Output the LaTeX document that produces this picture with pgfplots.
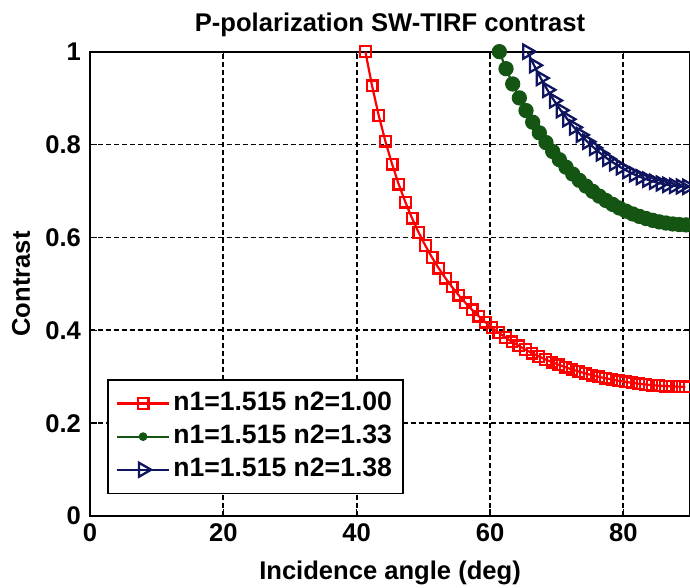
\documentclass[border=0pt]{standalone}
\usepackage{fontspec}
\setmainfont{Liberation Sans}
\usepackage{pgfplots}
\pgfplotsset{compat=1.18}

\definecolor{mgreen}{RGB}{20,85,20}
\definecolor{mblue}{RGB}{15,20,95}
\newcommand{\lblfont}{\fontsize{25.5}{30}\selectfont\bfseries}

\begin{document}
\begin{tikzpicture}[trim axis right]
\begin{axis}[
    scale only axis,
    width=598pt, height=463pt,
    xmin=0, xmax=90, ymin=0, ymax=1,
    xtick={0,20,40,60,80},
    xticklabels={0,20,40,60,80},
    ytick={0,0.2,0.4,0.6,0.8,1},
    yticklabels={0,0.2,0.4,0.6,0.8,1},
    axis line style={black, line width=1.8pt},
    tick style={black, line width=1.5pt},
    major tick length=7pt,
    tick align=inside,
    grid=major,
    major grid style={black, line width=1.8pt, dash pattern=on 5pt off 3pt},
    ticklabel style={font=\lblfont},
    xticklabel style={anchor=north, inner sep=0pt, yshift=-7pt},
    yticklabel style={anchor=east, inner sep=0pt, xshift=-9pt},
    every axis title shift=0pt,
    title={P-polarization SW-TIRF contrast},
    title style={font=\lblfont, at={(axis description cs:0.5,1.0432)}, anchor=base, inner xsep=0pt, inner ysep=13pt},
    xlabel={Incidence angle (deg)},
    xlabel style={font=\lblfont, at={(axis description cs:0.5,-0.1361)}, anchor=base, inner xsep=0pt, inner ysep=3pt},
    ylabel={Contrast},
    ylabel style={font=\lblfont, at={(axis description cs:-0.1003,0.5)}, anchor=base, rotate=0, inner xsep=0pt, inner ysep=12pt},
    clip mode=individual,
    legend cell align=left,
    legend style={at={(0.0284,0.0475)}, anchor=south west, draw=black, line width=1.5pt,
        fill=white, font=\fontsize{26.5}{30}\selectfont\bfseries,
        inner xsep=8pt, inner ysep=7pt,
        nodes={text height=18pt, text depth=5pt, inner ysep=5pt, inner xsep=3pt}},
    legend image code/.code={\draw[mark repeat=2,mark phase=2,#1] plot coordinates {(0pt,0pt) (26pt,0pt) (52pt,0pt)};},
]
% n1=1.515, n2=1.00
\addplot[red, line width=2.2pt, mark=square, mark size=5.3pt, mark options={line width=2.3pt}] table {
41.3 1.0000
42.3 0.9266
43.3 0.8627
44.3 0.8070
45.3 0.7580
46.3 0.7146
47.3 0.6760
48.3 0.6414
49.3 0.6103
50.3 0.5823
51.3 0.5568
52.3 0.5337
53.3 0.5126
54.3 0.4933
55.3 0.4756
56.3 0.4593
57.3 0.4443
58.3 0.4305
59.3 0.4177
60.3 0.4059
61.3 0.3950
62.3 0.3848
63.3 0.3754
64.3 0.3667
65.3 0.3586
66.3 0.3510
67.3 0.3440
68.3 0.3375
69.3 0.3315
70.3 0.3259
71.3 0.3207
72.3 0.3158
73.3 0.3114
74.3 0.3073
75.3 0.3035
76.3 0.3000
77.3 0.2969
78.3 0.2940
79.3 0.2914
80.3 0.2890
81.3 0.2869
82.3 0.2851
83.3 0.2834
84.3 0.2821
85.3 0.2809
86.3 0.2800
87.3 0.2793
88.3 0.2788
89.3 0.2786
};
\addlegendentry{n1=1.515 n2=1.00}
% n1=1.515, n2=1.33
\addplot[mgreen, line width=2.2pt, mark=*, mark size=6.5pt, mark options={fill=mgreen}, forget plot] table {
61.4 1.0000
62.4 0.9633
63.4 0.9304
64.4 0.9004
65.4 0.8731
66.4 0.8481
67.4 0.8252
68.4 0.8042
69.4 0.7850
70.4 0.7674
71.4 0.7513
72.4 0.7365
73.4 0.7229
74.4 0.7105
75.4 0.6992
76.4 0.6889
77.4 0.6795
78.4 0.6711
79.4 0.6634
80.4 0.6566
81.4 0.6506
82.4 0.6453
83.4 0.6407
84.4 0.6368
85.4 0.6335
86.4 0.6310
87.4 0.6290
88.4 0.6277
89.4 0.6270
};
\addlegendimage{mgreen, line width=2.2pt, mark=*, mark size=3.2pt, mark options={fill=mgreen}}
\addlegendentry{n1=1.515 n2=1.33}
% n1=1.515, n2=1.38
\addplot[mblue, line width=2.2pt, mark=triangle, mark size=8pt, mark options={rotate=-90, line width=2.3pt}] table {
65.6 1.0000
66.6 0.9706
67.6 0.9430
68.6 0.9178
69.6 0.8948
70.6 0.8737
71.6 0.8545
72.6 0.8369
73.6 0.8208
74.6 0.8061
75.6 0.7928
76.6 0.7806
77.6 0.7696
78.6 0.7597
79.6 0.7508
80.6 0.7429
81.6 0.7358
82.6 0.7297
83.6 0.7244
84.6 0.7199
85.6 0.7162
86.6 0.7133
87.6 0.7111
88.6 0.7097
89.6 0.7090
};
\addlegendentry{n1=1.515 n2=1.38}
\end{axis}
\end{tikzpicture}
\end{document}
